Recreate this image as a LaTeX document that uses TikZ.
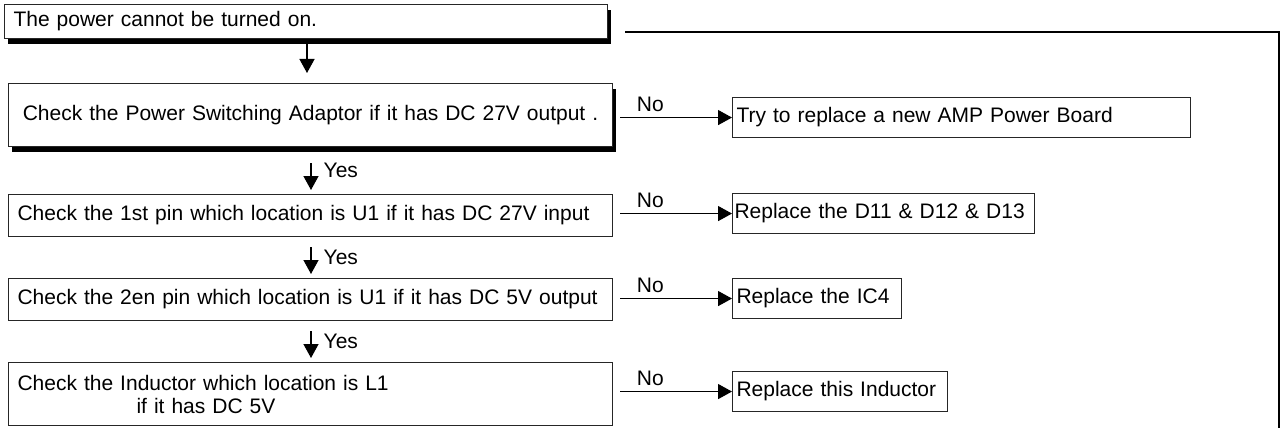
\documentclass[tikz,border=0pt]{standalone}
\usepackage{fontspec}
\setmainfont{Liberation Sans}
\usetikzlibrary{arrows.meta, shadows, positioning, calc}

\begin{document}
\begin{tikzpicture}[x=1pt, y=-1pt,
	box/.style={draw=black!85, line width=1.1pt, fill=white, anchor=north west,
		inner xsep=9pt, inner ysep=0pt, align=left, font=\fontsize{21}{23}\selectfont},
	shade/.style={drop shadow={shadow xshift=3pt, shadow yshift=-5pt, fill=black, opacity=1}},
	result/.style={box, inner xsep=4pt, minimum height=40pt},
	arr/.style={line width=1.4pt, -{Triangle[length=14pt, width=15pt]}},
	lbl/.style={font=\fontsize{21}{23}\selectfont, inner sep=2pt}]
	\useasboundingbox (0,0) rectangle (1283,428);

	% checks
	\node[box, shade, minimum width=603pt, minimum height=34pt, text width=585pt] (power) at (4,4) {The power cannot be turned on.};
	\node[box, shade, minimum width=604pt, minimum height=63pt, text width=586pt, align=center] (adaptor) at (8,83) {Check the Power Switching Adaptor if it has DC 27V output .};
	\node[box, minimum width=604pt, minimum height=42pt, text width=586pt] (pinone) at (8,194) {Check the 1st pin which location is U1 if it has DC 27V input};
	\node[box, minimum width=604pt, minimum height=42pt, text width=586pt] (pintwo) at (8,278) {Check the 2en pin which location is U1 if it has DC 5V output};
	\node[box, minimum width=604pt, minimum height=63pt, text width=586pt] (inductor) at (8,362) {Check the Inductor which location is L1\\\hspace*{119pt}if it has DC 5V};

	% repairs
	\node[result, minimum width=458pt, text width=450pt] (board) at (732,97) {Try to replace a new AMP Power Board};
	\node[result, minimum width=302pt, text width=298pt, inner xsep=2pt] (diodes) at (732,193) {Replace the D11 \& D12 \& D13};
	\node[result, minimum width=169pt, text width=161pt] (ic) at (732,278) {Replace the IC4};
	\node[result, minimum width=215pt, text width=207pt] (coil) at (732,371) {Replace this Inductor};

	% yes path
	\coordinate (spinetop) at (307,0);
	\coordinate (spine) at (311,0);
	\draw[arr, shorten <=5pt, shorten >=10pt] (power.south -| spinetop) -- (adaptor.north -| spinetop);
	\draw[arr, shorten <=16pt, shorten >=4pt] (adaptor.south -| spine) -- node[lbl, right=10pt] {Yes} (pinone.north -| spine);
	\draw[arr, shorten <=10pt, shorten >=4pt] (pinone.south -| spine) -- node[lbl, right=10pt] {Yes} (pintwo.north -| spine);
	\draw[arr, shorten <=10pt, shorten >=4pt] (pintwo.south -| spine) -- node[lbl, right=10pt] {Yes} (inductor.north -| spine);

	% no path
	\draw[arr] ([xshift=7pt]adaptor.east |- board.west) -- node[lbl, above=3pt, pos=0.27] {No} (board.west);
	\draw[arr] ([xshift=7pt]pinone.east |- diodes.west) -- node[lbl, above=3pt, pos=0.27] {No} (diodes.west);
	\draw[arr] ([xshift=7pt]pintwo.east |- ic.west) -- node[lbl, above=3pt, pos=0.27] {No} (ic.west);
	\draw[arr] ([xshift=7pt]inductor.east |- coil.west) -- node[lbl, above=3pt, pos=0.27] {No} (coil.west);

	% return line
	\coordinate (loopstart) at (625,32);
	\coordinate (loopturn) at (1279,32);
	\coordinate (loopend) at (1279,428);
	\draw[line width=2pt] (loopstart) -- (loopturn) -- (loopend);
\end{tikzpicture}
\end{document}
